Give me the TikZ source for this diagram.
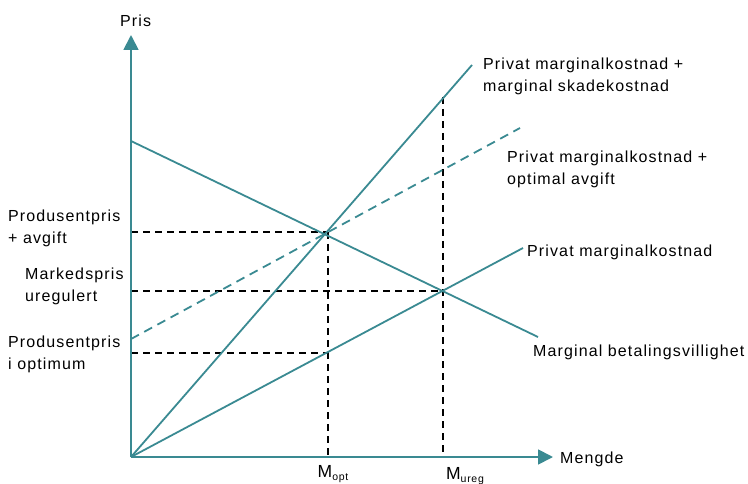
\documentclass[tikz,border=0pt]{standalone}
\usepackage{fontspec}
\setmainfont{Liberation Sans}[LetterSpace=7]
\usetikzlibrary{arrows.meta}
\definecolor{tealc}{RGB}{58,138,146}
\begin{document}
\begin{tikzpicture}[x=1pt,y=-1pt,
  curve/.style={draw=tealc,line width=1.8pt},
  guide/.style={draw=black,line width=1.6pt,dash pattern=on 7pt off 5pt},
  axis/.style={draw=tealc,line width=1.8pt,-{Triangle[width=15pt,length=15pt]}},
  lab/.style={font=\fontsize{16}{22}\selectfont,inner sep=0pt,align=left,anchor=west},
  mlab/.style={font=\fontsize{17.5}{22}\selectfont,inner sep=0pt,anchor=north},
  every node/.style={text=black}]
\useasboundingbox (0,0) rectangle (748,484);
% points
\coordinate (O) at (131,457);
\coordinate (ytip) at (131,35);
\coordinate (xtip) at (553,457);
\coordinate (Dstart) at (131,141);
\coordinate (Dend) at (538,337);
\coordinate (Send) at (472,65);
\coordinate (Tstart) at (131,339);
\coordinate (Tend) at (520,128);
\coordinate (Pend) at (523,248);
\coordinate (Eopt) at (327,232);
\coordinate (Eureg) at (443,291);
\coordinate (Pm) at (328,353);
\coordinate (Sq) at (443,97);
\coordinate (Ya) at (131,232);
\coordinate (Yb) at (131,291);
\coordinate (Yc) at (131,353);
\coordinate (Xa) at (328,457);
\coordinate (Xb) at (443,457);
% guides
\draw[guide] (Ya) -- (Eopt);
\draw[guide] (Yb) -- (Eureg);
\draw[guide] (Yc) -- (Pm);
\draw[guide] (Eopt -| Xa) -- (Xa);
\draw[guide] (Sq) -- (Xb);
% curves
\draw[curve] (Dstart) -- (Dend);
\draw[curve] (O) -- (Send);
\draw[curve,dash pattern=on 9pt off 6pt] (Tstart) -- (Tend);
\draw[curve] (O) -- (Pend);
% axes
\draw[axis] (O) -- (ytip);
\draw[axis] (O) -- (xtip);
% labels
\node[lab] (pris) at (120,21) {Pris};
\node[lab] (mengde) at (560,459) {Mengde};
\node[mlab] (mopt) at (333,465) {M\raisebox{-0.3ex}{\fontsize{10.5}{11}\selectfont opt}};
\node[mlab] (mureg) at (465,467) {M\raisebox{-0.3ex}{\fontsize{10.5}{11}\selectfont ureg}};
\node[lab] (l1) at (8,228) {Produsentpris\\+ avgift};
\node[lab] (l2) at (25,286) {Markedspris\\uregulert};
\node[lab] (l3) at (8,354) {Produsentpris\\i optimum};
\node[lab] (r1) at (483,76) {Privat marginalkostnad +\\marginal skadekostnad};
\node[lab] (r2) at (507,169) {Privat marginalkostnad +\\optimal avgift};
\node[lab] (r3) at (527,252) {Privat marginalkostnad};
\node[lab] (r4) at (533,352) {Marginal betalingsvillighet};
\end{tikzpicture}
\end{document}
